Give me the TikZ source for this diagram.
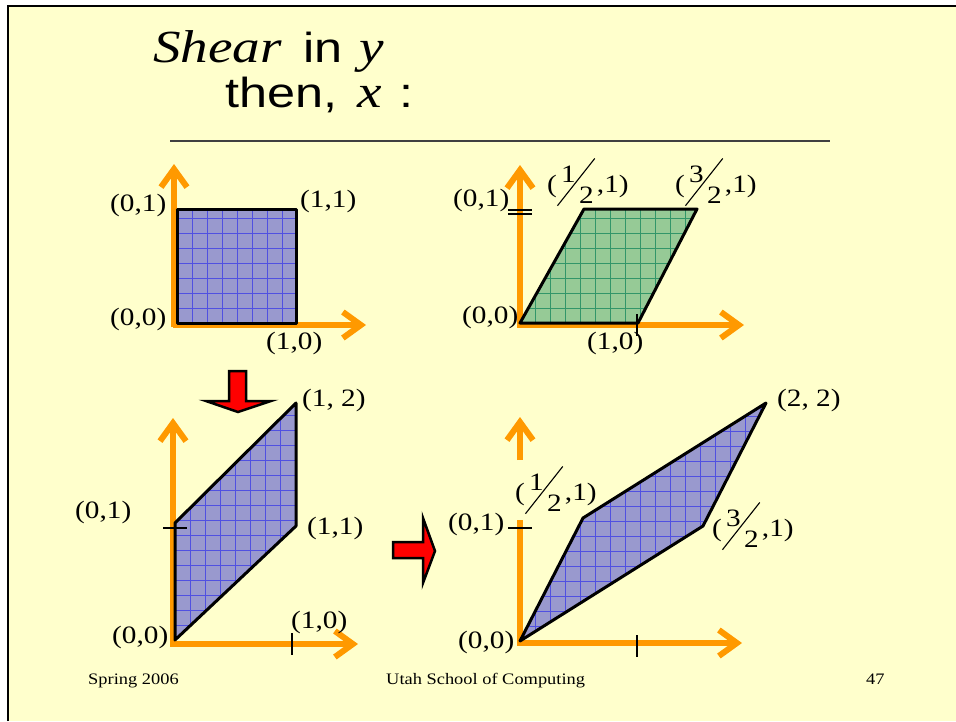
\documentclass[tikz,border=0pt]{standalone}
\usepackage{fontspec}
\setmainfont{Liberation Serif}
\setsansfont{Liberation Sans}
\newfontfamily\headserif{Liberation Serif}
\newfontfamily\headsans{Liberation Sans}
\usepackage{graphicx}
\usetikzlibrary{arrows.meta}
\usetikzlibrary{positioning}

\definecolor{slidebg}{RGB}{255,255,204}
\definecolor{axisorange}{RGB}{255,153,0}
\definecolor{lavender}{RGB}{153,153,206}
\definecolor{gridblue}{RGB}{80,80,225}
\definecolor{sagegreen}{RGB}{150,202,150}
\definecolor{gridgreen}{RGB}{50,150,105}
\definecolor{titlerule}{RGB}{64,64,64}

% slanted fraction  a/2 as on the slide
\newcommand{\slfrac}[1]{\rlap{\kern3.5pt\raisebox{10pt}{#1}}\rlap{\kern19pt\raisebox{-11pt}{2}}\raisebox{-14pt}{\rotatebox{56}{\rule{57pt}{1pt}}}\kern1.5pt}
% words of the title
\newcommand{\titlesans}[1]{{\headsans\fontsize{42}{42}\selectfont #1}}
\newcommand{\titleit}[1]{{\headserif\fontsize{46}{46}\selectfont\itshape #1}}

\tikzset{
  axis/.style={draw=axisorange, line width=6pt, -{Straight Barb[length=18pt,width=26pt]}},
  tickmark/.style={draw=black, line width=2pt},
  coord/.style={anchor=base west, inner sep=0pt, xscale=1.17, font=\fontsize{25}{25}\selectfont},
  foot/.style={anchor=base west, inner sep=0pt, xscale=1.15, font=\fontsize{16}{16}\selectfont},
  headline/.style={anchor=base west, inner sep=0pt, xscale=1.2},
  edge/.style={draw=black, line width=3pt, line join=round},
  gridlines/.style={line width=.5pt, step=15pt},
  redarrow/.style={fill=red, draw=black, line width=2.5pt, line join=miter}
}

\begin{document}
\begin{tikzpicture}[x=1pt,y=-1pt]
\useasboundingbox (0,0) rectangle (956,721);
\fill[white] (0,0) rectangle (956,721);
\fill[slidebg] (8,6) rectangle (956,721);
\draw[line width=2.7pt] (8,721) -- (8,6) -- (956,6);

% title
\node[headline] (titleA) at (153,62) {\titleit{Shear}\kern18pt\titlesans{in}\kern14pt\titleit{y}};
\node[headline] (titleB) at (225,107) {\titlesans{then,}\kern17pt\titleit{x}\kern14pt\titlesans{:}};
\draw[titlerule, line width=2.5pt] (170,141) -- (830,141);

% corners of the four shapes
\coordinate (tlO) at (177,323);
\coordinate (tlA) at (296,323);
\coordinate (tlC) at (296,209);
\coordinate (tlB) at (177,209);
\coordinate (trO) at (520,323);
\coordinate (trA) at (638,323);
\coordinate (trC) at (697,209);
\coordinate (trB) at (584,209);
\coordinate (blO) at (175,640);
\coordinate (blA) at (296,526);
\coordinate (blC) at (296,403);
\coordinate (blB) at (175,523);
\coordinate (brO) at (520,641);
\coordinate (brA) at (703,526);
\coordinate (brC) at (766,403);
\coordinate (brB) at (583,518);

% axes
\coordinate (tlXs) at (173,325);
\coordinate (tlXe) at (366,325);
\coordinate (tlYs) at (174,327);
\coordinate (tlYe) at (174,164);
\coordinate (trXs) at (517,325);
\coordinate (trXe) at (744,325);
\coordinate (trYs) at (520,327);
\coordinate (trYe) at (520,165);
\coordinate (blXs) at (170,644);
\coordinate (blXe) at (358,644);
\coordinate (blYs) at (173,646);
\coordinate (blYe) at (173,418);
\coordinate (brXs) at (517,643);
\coordinate (brXe) at (742,643);
\coordinate (brYs) at (520,645);
\coordinate (brYm) at (520,520);
\coordinate (brYn) at (520,460);
\coordinate (brYe) at (520,417);

\draw[axis] (tlYs) -- (tlYe);
\draw[axis] (tlXs) -- (tlXe);
\draw[axis] (trYs) -- (trYe);
\draw[axis] (trXs) -- (trXe);
\draw[axis] (blYs) -- (blYe);
\draw[axis] (blXs) -- (blXe);
\draw[axis, -] (brYs) -- (brYm);
\draw[axis] (brYn) -- (brYe);
\draw[axis] (brXs) -- (brXe);

% unit square
\begin{scope}
\clip (tlO) -- (tlA) -- (tlC) -- (tlB) -- cycle;
\fill[lavender] (tlO) rectangle (tlC);
\draw[gridblue, gridlines, shift={(tlO)}] (-15,150) grid (150,-150);
\end{scope}
\draw[edge] (tlO) -- (tlA) -- (tlC) -- (tlB) -- cycle;

% shear in x only
\begin{scope}
\clip (trO) -- (trA) -- (trC) -- (trB) -- cycle;
\fill[sagegreen] (trO) rectangle (trC);
\draw[gridgreen, gridlines, shift={(trO)}] (-15,150) grid (200,-150);
\end{scope}
\draw[edge] (trO) -- (trA) -- (trC) -- (trB) -- cycle;

% shear in y
\begin{scope}
\clip (blO) -- (blA) -- (blC) -- (blB) -- cycle;
\fill[lavender] (blO) rectangle (blC);
\draw[gridblue, gridlines, shift={(blO)}] (-15,150) grid (150,-260);
\end{scope}
\draw[edge] (blO) -- (blA) -- (blC) -- (blB) -- cycle;

% then in x
\begin{scope}
\clip (brO) -- (brA) -- (brC) -- (brB) -- cycle;
\fill[lavender] (brO) rectangle (brC);
\draw[gridblue, gridlines, shift={(brO)}] (-15,150) grid (270,-260);
\end{scope}
\draw[edge] (brO) -- (brA) -- (brC) -- (brB) -- cycle;

% ticks
\draw[tickmark, line width=1.5pt] (508,210) -- (532,210);
\draw[tickmark, line width=1.5pt] (508,214) -- (532,214);
\draw[tickmark, line width=1.5pt] (637,314) -- (637,336);
\draw[tickmark] (163,528) -- (187,528);
\draw[tickmark] (292,633) -- (292,655);
\draw[tickmark] (508,528) -- (532,528);
\draw[tickmark] (637,635) -- (637,657);

% red arrows
\draw[redarrow] (229,371) -- (246,371) -- (246,401) -- (271,401) -- (238,412) -- (206,401) -- (229,401) -- cycle;
\draw[redarrow] (393,542) -- (423,542) -- (423,518) -- (435,551) -- (423,583) -- (423,558) -- (393,558) -- cycle;

% labels
\node[coord] (tl01) at (110,211) {(0,1)};
\node[coord] (tl11) at (300,207) {(1,1)};
\node[coord] (tl00) at (110,325) {(0,0)};
\node[coord] (tl10) at (266,349) {(1,0)};

\node[coord] (tr01) at (453,206) {(0,1)};
\node[coord] (tr00) at (462,323) {(0,0)};
\node[coord] (tr10) at (587,349) {(1,0)};
\node[coord] (trB1) at (547,192) {(\slfrac{1},1)};
\node[coord] (trC1) at (675,192) {(\slfrac{3},1)};

\node[coord] (bl12) at (302,406) {(1, 2)};
\node[coord] (bl01) at (75,518) {(0,1)};
\node[coord] (bl11) at (307,534) {(1,1)};
\node[coord] (bl10) at (291,628) {(1,0)};
\node[coord] (bl00) at (112,643) {(0,0)};

\node[coord] (br22) at (777,406) {(2, 2)};
\node[coord] (br01) at (448,530) {(0,1)};
\node[coord] (brB1) at (515,500) {(\slfrac{1},1)};
\node[coord] (brA1) at (712,536) {(\slfrac{3},1)};
\node[coord] (br00) at (458,648) {(0,0)};

% footer
\node[foot] (footL) at (88,684) {Spring 2006};
\node[foot] (footC) at (386,684) {Utah School of Computing};
\node[foot] (footR) at (866,684) {47};
\end{tikzpicture}
\end{document}
